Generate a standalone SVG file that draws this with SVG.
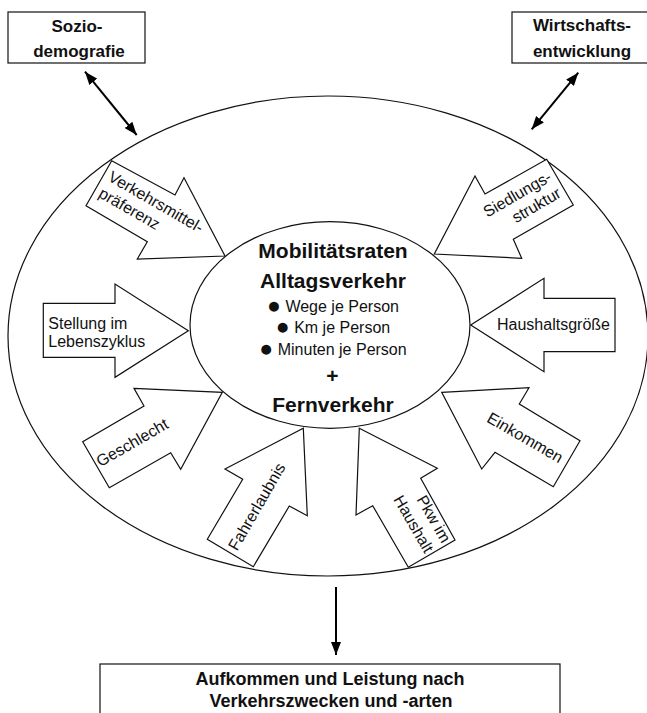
<svg xmlns="http://www.w3.org/2000/svg" width="647" height="713" viewBox="0 0 647 713">
<style>
text{font-family:"Liberation Sans",Arial,sans-serif;fill:#111}
.lbl{font-size:16px}
.box{font-size:17px;font-weight:bold;text-anchor:middle}
.big{font-size:21px;font-weight:bold;text-anchor:middle}
.item{font-size:16px;text-anchor:middle}
.dot{font-size:23px}
.shape{fill:#fff;stroke:#111;stroke-width:1.2}
.conn{stroke:#000;stroke-width:2;fill:none}
</style>
<defs>
<marker id="head" viewBox="0 0 13 10" refX="13" refY="5" markerWidth="13" markerHeight="10" markerUnits="userSpaceOnUse" orient="auto-start-reverse">
<path d="M0,0 L13,5 L0,10 z" fill="#000"/>
</marker>
</defs>
<rect width="647" height="713" fill="#fff"/>

<g id="outer">
<ellipse class="shape" cx="328" cy="336" rx="320" ry="240"/>
</g>

<g id="sozio">
<rect class="shape" x="8" y="12" width="137" height="51"/>
<text class="box" x="77" y="31.7">Sozio-</text>
<text class="box" x="79" y="56.7">demografie</text>
</g>

<g id="wirtschaft">
<rect class="shape" x="512" y="12" width="140" height="51"/>
<text class="box" x="582" y="31">Wirtschafts-</text>
<text class="box" x="582" y="56.7">entwicklung</text>
</g>

<g id="verkehrsmittel">
<polygon class="shape" points="111.7,160.7 175,195 184,177.7 225,256 137.3,259 147.3,241.7 86,205.7"/>
<g transform="translate(107,180) rotate(30)">
<text class="lbl" x="0" y="0">Verkehrsmittel-</text>
<text class="lbl" x="0" y="19">präferenz</text>
</g>
</g>

<g id="siedlung">
<polygon class="shape" points="546.7,159.3 573.3,205 513.3,239.3 521.7,258.3 434.3,254 475,176 485,194"/>
<g transform="translate(552.7,180) rotate(-30)">
<text class="lbl" x="0" y="0" text-anchor="end">Siedlungs-</text>
<text class="lbl" x="0" y="19" text-anchor="end">struktur</text>
</g>
</g>

<g id="stellung">
<polygon class="shape" points="43.3,303.3 115,303.3 115,284 188.3,330.7 115,377.3 115,357.3 43.3,357.3"/>
<text class="lbl" x="48.3" y="328.5">Stellung im</text>
<text class="lbl" x="48.3" y="347">Lebenszyklus</text>
</g>

<g id="haushaltsgroesse">
<polygon class="shape" points="470.7,325 544,278.3 544,298.3 615,298.3 615,351.7 544,351.7 544,371.7"/>
<text class="lbl" x="497" y="330">Haushaltsgröße</text>
</g>

<g id="geschlecht">
<polygon class="shape" points="134,388.3 222.3,392.3 180.7,469.3 170.7,452.7 109.3,487.7 82.7,441.7 144,406"/>
<text class="lbl" text-anchor="middle" transform="translate(135,447.3) rotate(-30)">Geschlecht</text>
</g>

<g id="fahrerlaubnis">
<polygon class="shape" points="303.3,428.3 307.3,515.7 289.3,506 253.3,566.7 207.3,539.3 242.7,479.3 225,469"/>
<text class="lbl" text-anchor="middle" transform="translate(261.5,509.4) rotate(-60)">Fahrerlaubnis</text>
</g>

<g id="pkw">
<polygon class="shape" points="359.3,428.3 437.3,468.3 420.7,478.3 455,540 408.3,567.3 372.7,505.7 356,515"/>
<g transform="translate(442,544) rotate(60)">
<text class="lbl" x="0" y="0" text-anchor="end">Pkw im</text>
<text class="lbl" x="0" y="20" text-anchor="end">Haushalt</text>
</g>
</g>

<g id="einkommen">
<polygon class="shape" points="441.7,392.3 529,387.7 519.3,404 580,440.7 553.3,486.7 495,452.3 481.7,469"/>
<text class="lbl" text-anchor="middle" transform="translate(522.3,442.3) rotate(30)">Einkommen</text>
</g>

<g id="mobilitaet">
<ellipse class="shape" cx="330" cy="325" rx="140" ry="103.3"/>
<text class="big" x="333" y="258.3">Mobilitätsraten</text>
<text class="big" x="333" y="288.3">Alltagsverkehr</text>
<text class="item" x="333" y="311.7"><tspan class="dot" dy="1">●</tspan><tspan dy="-1"> Wege je Person</tspan></text>
<text class="item" x="333" y="333.3"><tspan class="dot" dy="1">●</tspan><tspan dy="-1"> Km je Person</tspan></text>
<text class="item" x="333" y="355"><tspan class="dot" dy="1">●</tspan><tspan dy="-1"> Minuten je Person</tspan></text>
<text class="big" x="332.5" y="383.3">+</text>
<text class="big" x="333" y="411.7">Fernverkehr</text>
</g>

<g id="aufkommen">
<rect class="shape" x="100" y="664" width="460" height="80"/>
<text class="box" style="font-size:18px" x="330" y="685">Aufkommen und Leistung nach</text>
<text class="box" style="font-size:18px" x="331" y="707">Verkehrszwecken und -arten</text>
</g>

<g id="connectors">
<line class="conn" x1="85" y1="71.7" x2="136.7" y2="135" marker-start="url(#head)" marker-end="url(#head)"/>
<line class="conn" x1="578.3" y1="72.7" x2="531.7" y2="129.3" marker-start="url(#head)" marker-end="url(#head)"/>
<line class="conn" x1="336" y1="587" x2="336" y2="655" marker-end="url(#head)"/>
</g>
</svg>
